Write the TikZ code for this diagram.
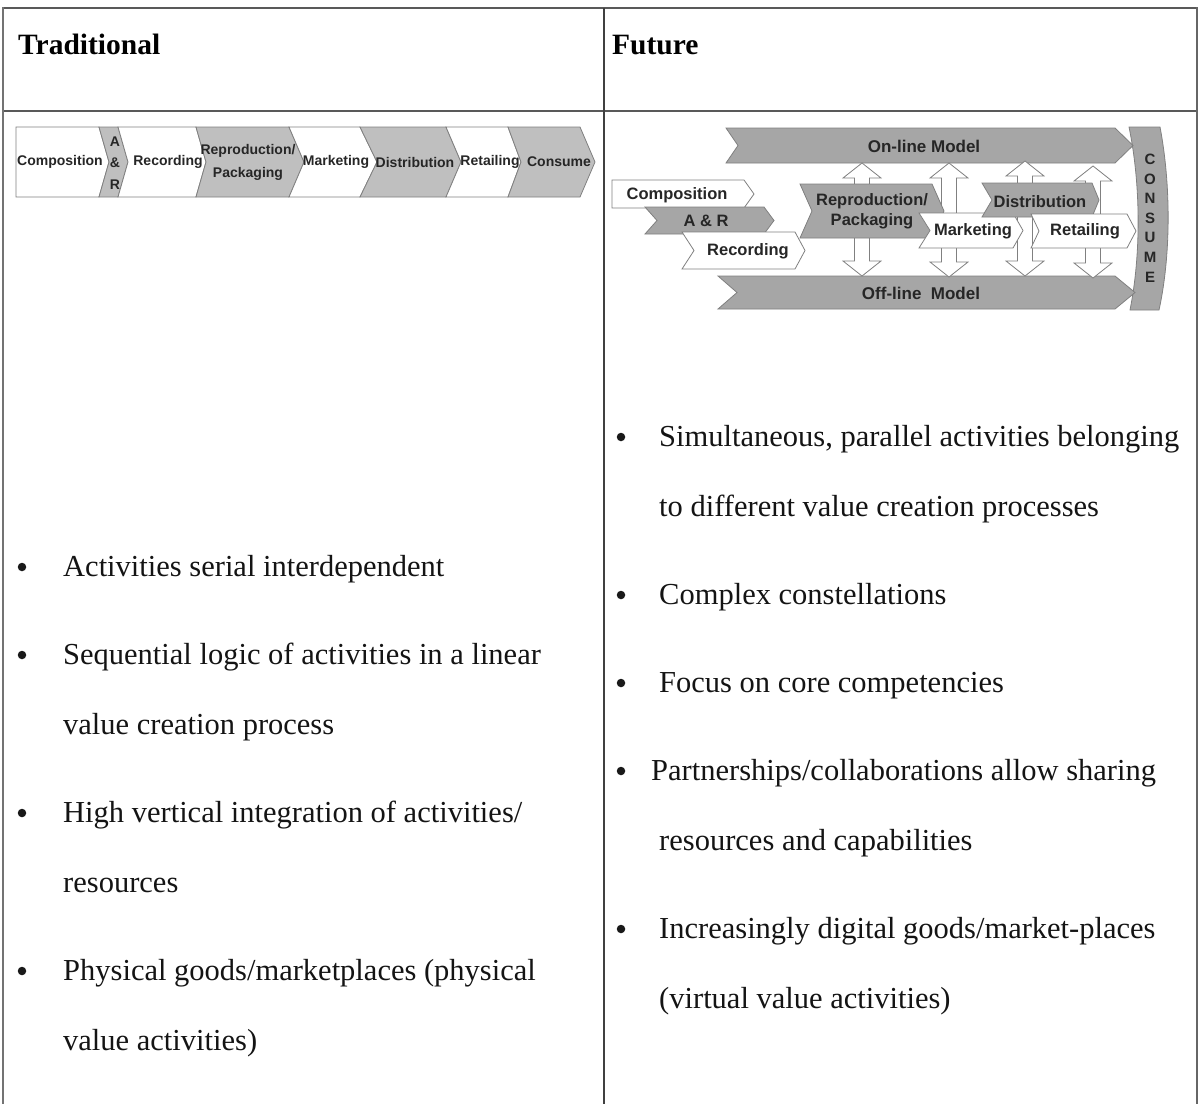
\documentclass[tikz,border=0pt]{standalone}
\usepackage{fontspec}
\setmainfont{Liberation Serif}
\newfontfamily\diagfont{Liberation Sans}

% chevron: style, left x, right x, top y, bottom y, notch depth, tip length
\newcommand{\chev}[7]{%
  \draw[#1] (#2,#4) -- (#3,#4) -- ({#3+#7},{(#4+#5)/2}) -- (#3,#5) -- (#2,#5)
    -- ({#2+#6},{(#4+#5)/2}) -- cycle;}
% hollow double-headed vertical arrow: centre x, top tip y, bottom tip y
\newcommand{\vdarrow}[3]{%
  \draw[hollow] (#1,#2) -- ({#1+19},{#2+15}) -- ({#1+7.5},{#2+15}) -- ({#1+7.5},{#3-15})
    -- ({#1+19},{#3-15}) -- (#1,#3) -- ({#1-19},{#3-15}) -- ({#1-7.5},{#3-15})
    -- ({#1-7.5},{#2+15}) -- ({#1-19},{#2+15}) -- cycle;}

\begin{document}
\begin{tikzpicture}[x=1pt,y=-1pt,
  body/.style={anchor=base west, inner sep=0pt, text=black!92,
    font=\fontsize{30.5}{36}\selectfont},
  dot/.style={circle, fill=black!90, inner sep=0pt, minimum size=8.5pt},
  head/.style={anchor=base west, inner sep=0pt,
    font=\fontsize{29.5}{34}\selectfont\bfseries},
  chevw/.style={draw=black!50, line width=0.8pt, fill=white},
  chevg/.style={draw=black!50, line width=0.8pt, fill=black!25},
  chevd/.style={draw=black!50, line width=0.8pt, fill=black!35},
  hollow/.style={draw=black!50, line width=0.8pt, fill=white},
  small/.style={inner sep=0pt, text=black!85, align=center,
    font=\diagfont\bfseries\fontsize{14}{21.5}\selectfont},
  lbl/.style={inner sep=0pt, text=black!85, align=center,
    font=\diagfont\bfseries\fontsize{16.5}{19.6}\selectfont},
]
\useasboundingbox (0,0) rectangle (1198,1104);
\fill[white] (0,0) rectangle (1198,1104);

% table rules
\draw[draw=black!65, line width=2.5pt] (2,8) -- (1198,8);
\draw[draw=black!65, line width=2pt] (3,111) -- (1198,111);
\draw[draw=black!55, line width=2.5pt] (3,7) -- (3,1104);
\draw[draw=black!75, line width=1.5pt] (604,8) -- (604,1104);
\draw[draw=black!60, line width=2pt] (1197,7) -- (1197,1104);

% headers
\node[head] (hTrad) at (18,54) {Traditional};
\node[head] (hFut) at (612,54) {Future};

% ---------- traditional value chain ----------
\chev{chevw}{16}{99}{127}{197}{0}{10}
\chev{chevg}{99}{118}{127}{197}{10}{10}
\chev{chevw}{118}{196}{127}{197}{10}{10}
\chev{chevg}{196}{289}{127}{197}{10}{15}
\chev{chevw}{289}{360}{127}{197}{15}{17}
\chev{chevg}{360}{446}{127}{197}{17}{15}
\chev{chevw}{446}{508}{127}{197}{15}{13}
\chev{chevg}{508}{580}{127}{197}{13}{15}

\node[small] (tComp) at (60,162) {Composition};
\node[small] (tAR) at (115,163) {A\\\&\\R};
\node[small] (tRec) at (168,162) {Recording};
\node[small, font=\diagfont\bfseries\fontsize{14}{23}\selectfont] (tRep) at (248,162) {Reproduction/\\Packaging};
\node[small] (tMkt) at (336,162) {Marketing};
\node[small] (tDist) at (415,162) {Distribution};
\node[small] (tRet) at (490,162) {Retailing};
\node[small] (tCons) at (559,162) {Consume};

% ---------- future value network ----------
% consumer band
\draw[chevd] (1129,127) -- (1160,127) .. controls (1171,185) and (1171,255) .. (1159,310)
  -- (1130,310) .. controls (1141,255) and (1141,185) .. (1129,127) -- cycle;
\node[lbl, font=\diagfont\bfseries\fontsize{15}{19.6}\selectfont] (fCons) at (1150,218)
  {C\\O\\N\\S\\U\\M\\E};

% on-line and off-line channels
\chev{chevd}{726}{1115}{128}{163}{12}{18}
\chev{chevd}{718}{1115}{276}{309}{19}{20}
\node[lbl, font=\diagfont\bfseries\fontsize{17}{20}\selectfont] (fOn) at (924,146) {On-line Model};
\node[lbl, font=\diagfont\bfseries\fontsize{17}{20}\selectfont] (fOff) at (921,293) {Off-line\ \ Model};

% exchanges between the channels
\vdarrow{862}{163}{276}
\vdarrow{949}{163}{277}
\vdarrow{1025}{161}{276}
\vdarrow{1093}{166}{278}

% creation steps
\chev{chevw}{612}{744}{180}{208}{0}{10}
\chev{chevd}{645}{764}{207}{234}{12}{10}
\chev{chevw}{682}{795}{232}{269}{12}{10}
\node[lbl] (fComp) at (677,195) {Composition};
\node[lbl] (fAR) at (706,221) {A \& R};
\node[lbl] (fRec) at (748,251) {Recording};

\chev{chevd}{800}{932}{184}{238}{12}{12}
\node[lbl] (fRep) at (872,211) {Reproduction/\\Packaging};
\chev{chevw}{919}{1013}{213}{248}{11}{10}
\node[lbl] (fMkt) at (973,231) {Marketing};
\chev{chevd}{982}{1092}{183}{217}{10}{7}
\node[lbl] (fDist) at (1040,202) {Distribution};
\chev{chevw}{1031}{1127}{214}{248}{8}{9}
\node[lbl] (fRet) at (1085,231) {Retailing};

% ---------- traditional bullets ----------
\node[dot] (lb1) at (22,567) {};
\node[body] (l1) at (63,576) {Activities serial interdependent};
\node[dot] (lb2) at (22,655) {};
\node[body] (l2) at (63,664) {Sequential logic of activities in a linear};
\node[body] (l2b) at (63,734) {value creation process};
\node[dot] (lb3) at (22,813) {};
\node[body] (l3) at (63,822) {High vertical integration of activities/};
\node[body] (l3b) at (63,892) {resources};
\node[dot] (lb4) at (22,971) {};
\node[body] (l4) at (63,980) {Physical goods/marketplaces (physical};
\node[body] (l4b) at (63,1050) {value activities)};

% ---------- future bullets ----------
\node[dot] (rb1) at (621,437) {};
\node[body] (r1) at (659,446) {Simultaneous, parallel activities belonging};
\node[body] (r1b) at (659,516) {to different value creation processes};
\node[dot] (rb2) at (621,595) {};
\node[body] (r2) at (659,604) {Complex constellations};
\node[dot] (rb3) at (621,683) {};
\node[body] (r3) at (659,692) {Focus on core competencies};
\node[dot] (rb4) at (621,771) {};
\node[body] (r4) at (651,780) {Partnerships/collaborations allow sharing};
\node[body] (r4b) at (659,850) {resources and capabilities};
\node[dot] (rb5) at (621,929) {};
\node[body] (r5) at (659,938) {Increasingly digital goods/market-places};
\node[body] (r5b) at (659,1008) {(virtual value activities)};
\end{tikzpicture}
\end{document}
